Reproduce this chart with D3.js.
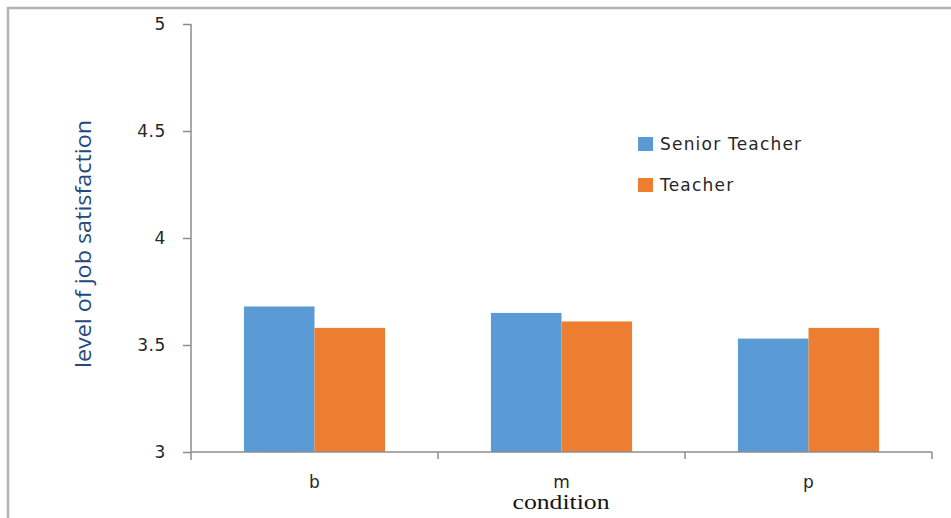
<!DOCTYPE html>
<html>
<head>
<meta charset="utf-8">
<script src="https://cdn.jsdelivr.net/npm/d3@7"></script>
<style>
  html, body { margin: 0; padding: 0; background: #fff; }
  svg { display: block; }
</style>
</head>
<body>
<svg id="chart" width="951" height="518"></svg>
<script>
// Job satisfaction by condition and teacher rank
const categories = ["b", "m", "p"];
const seriesNames = ["Senior Teacher", "Teacher"];
const seniorTeacher = [3.68, 3.65, 3.53];
const teacher = [3.58, 3.61, 3.58];
const yTicks = [3, 3.5, 4, 4.5, 5];
const colors = ["#5b9bd5", "#ed7d31"];

const values = [seniorTeacher, teacher];
const rows = categories.map((c, i) => ({
  cat: c,
  vals: seriesNames.map((s, j) => ({ series: s, idx: j, value: values[j][i] }))
}));

const svg = d3.select("#chart");

// outer frame
svg.append("rect")
  .attr("x", 8).attr("y", 8)
  .attr("width", 960).attr("height", 540)
  .attr("fill", "none")
  .attr("stroke", "#b4b4b4")
  .attr("stroke-width", 2.5);

const plotLeft = 191, plotRight = 932, plotTop = 24, plotBottom = 452;

const x = d3.scaleBand().domain(categories).range([plotLeft, plotRight]).padding(0);
const xInner = d3.scaleBand().domain(seriesNames)
  .range([0, x.bandwidth()]).paddingInner(0).paddingOuter(0.75);
const y = d3.scaleLinear().domain([3, 5]).range([plotBottom, plotTop]);

// bars
const groups = svg.append("g").selectAll("g")
  .data(rows).join("g")
  .attr("transform", d => `translate(${x(d.cat)},0)`);

groups.selectAll("rect")
  .data(d => d.vals).join("rect")
  .attr("x", d => xInner(d.series))
  .attr("y", d => y(d.value))
  .attr("width", xInner.bandwidth())
  .attr("height", d => y(3) - y(d.value))
  .attr("fill", d => colors[d.idx]);

// y axis
const yAxis = svg.append("g")
  .attr("transform", `translate(${plotLeft},0)`)
  .call(d3.axisLeft(y).tickValues(yTicks).tickSize(8).tickPadding(17)
    .tickFormat(d => String(d)));
yAxis.select(".domain").attr("d", `M0,${plotTop}V${plotBottom + 8}`);
yAxis.selectAll(".domain, .tick line").attr("stroke", "#8c8c8c").attr("stroke-width", 1.5);
yAxis.selectAll(".tick text")
  .attr("font-family", "DejaVu Sans, Verdana, sans-serif")
  .attr("font-size", 17)
  .attr("letter-spacing", 0.6)
  .attr("fill", "#262626")
  .attr("dy", "0.35em");

// x axis with ticks on category boundaries
const xAxis = svg.append("g").attr("transform", `translate(0,${plotBottom})`);
xAxis.append("line")
  .attr("x1", plotLeft).attr("x2", plotRight)
  .attr("stroke", "#8c8c8c").attr("stroke-width", 1.5);
const bounds = categories.map(c => x(c) + x.bandwidth());
xAxis.selectAll("line.tk")
  .data(bounds).join("line").attr("class", "tk")
  .attr("x1", d => d).attr("x2", d => d)
  .attr("y1", 0).attr("y2", 7)
  .attr("stroke", "#8c8c8c").attr("stroke-width", 1.5);
xAxis.selectAll("text")
  .data(categories).join("text")
  .attr("x", d => x(d) + x.bandwidth() / 2)
  .attr("y", 36)
  .attr("text-anchor", "middle")
  .attr("font-family", "DejaVu Sans, Verdana, sans-serif")
  .attr("font-size", 17)
  .attr("fill", "#262626")
  .text(d => d);

// axis titles
svg.append("text")
  .attr("x", 561).attr("y", 509)
  .attr("text-anchor", "middle")
  .attr("font-family", "Liberation Serif, Times New Roman, serif")
  .attr("font-size", 20)
  .attr("textLength", 97)
  .attr("lengthAdjust", "spacingAndGlyphs")
  .attr("fill", "#141414")
  .text("condition");

svg.append("text")
  .attr("transform", "translate(91,244) rotate(-90)")
  .attr("text-anchor", "middle")
  .attr("font-family", "Open Sans, Liberation Sans, sans-serif")
  .attr("font-size", 21)
  .attr("textLength", 248)
  .attr("lengthAdjust", "spacingAndGlyphs")
  .attr("fill", "#25497a")
  .text("level of job satisfaction");

// legend
const legend = svg.append("g");
const legendY = [137, 178];
seriesNames.forEach((s, i) => {
  legend.append("rect")
    .attr("x", 638).attr("y", legendY[i])
    .attr("width", 15).attr("height", 14)
    .attr("fill", colors[i]);
  legend.append("text")
    .attr("x", 660).attr("y", legendY[i] + 13)
    .attr("font-family", "DejaVu Sans, Verdana, sans-serif")
    .attr("font-size", 17)
    .attr("letter-spacing", 1.2)
    .attr("fill", "#262626")
    .text(s);
});
</script>
</body>
</html>
